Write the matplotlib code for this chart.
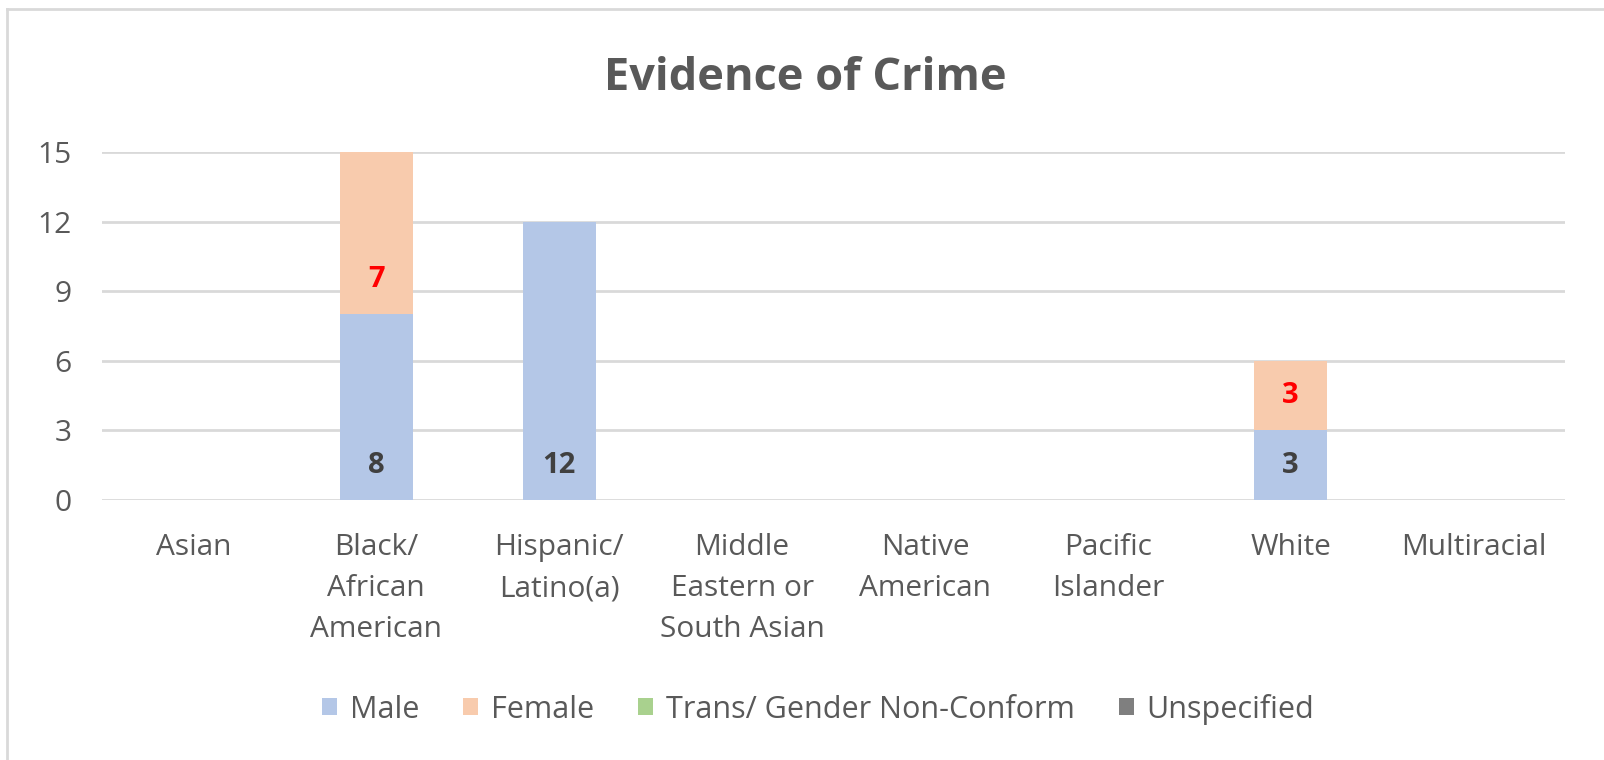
import matplotlib.pyplot as plt
from matplotlib.lines import Line2D
import numpy as np

# --- Data ---
categories = ["Asian", "Black/\nAfrican\nAmerican", "Hispanic/\nLatino(a)",
              "Middle\nEastern or\nSouth Asian", "Native\nAmerican",
              "Pacific\nIslander", "White", "Multiracial"]
male = [0, 8, 12, 0, 0, 0, 3, 0]
female = [0, 7, 0, 0, 0, 0, 3, 0]
trans = [0, 0, 0, 0, 0, 0, 0, 0]
unspecified = [0, 0, 0, 0, 0, 0, 0, 0]
yticks = [0, 3, 6, 9, 12, 15]

# --- Style ---
plt.rcParams['font.family'] = ['Open Sans', 'DejaVu Sans']
text_color = "#595959"
grid_color = "#D9D9D9"
colors = {"Male": "#B4C7E7", "Female": "#F8CBAD",
          "Trans/ Gender Non-Conform": "#A9D18E", "Unspecified": "#7F7F7F"}

fig = plt.figure(figsize=(16.04, 7.6), dpi=100)
ax = fig.add_axes([0.0636, 0.342, 0.9121, 0.458])

x = np.arange(len(categories))
width = 0.4
bottom = np.zeros(len(categories))
series = [("Male", male), ("Female", female),
          ("Trans/ Gender Non-Conform", trans), ("Unspecified", unspecified)]
bars = {}
for name, vals in series:
    vals = np.array(vals, dtype=float)
    bars[name] = ax.bar(x, vals, width, bottom=bottom, color=colors[name],
                        label=name, zorder=3)
    bottom += vals

# value labels near the base of each segment
label_colors = {"Male": "#404040", "Female": "#FF0000"}
for name, col in label_colors.items():
    for rect in bars[name]:
        h = rect.get_height()
        if h > 0:
            ax.annotate(f"{int(h)}", (rect.get_x() + rect.get_width() / 2, rect.get_y()),
                        xytext=(0, 25), textcoords="offset points",
                        ha="center", va="center", fontsize=21,
                        fontweight="bold", color=col, zorder=4)

ax.set_ylim(0, 15)
ax.set_xlim(-0.5, len(categories) - 0.5)
ax.set_yticks(yticks)
ax.set_xticks(x)
ax.set_xticklabels(categories, linespacing=1.53)
ax.tick_params(axis="y", length=0, pad=22, labelsize=21.5, labelcolor=text_color)
ax.tick_params(axis="x", length=0, pad=24, labelsize=21.5, labelcolor=text_color)
ax.yaxis.grid(True, color=grid_color, linewidth=2, zorder=0)
for s in ax.spines.values():
    s.set_visible(False)

fig.text(0.502, 0.897, "Evidence of Crime", ha="center", va="center",
         fontsize=32.5, fontweight="bold", color=text_color)

leg = fig.legend(loc="center", bbox_to_anchor=(0.510, 0.067), ncol=4,
                 frameon=False, fontsize=22, handlelength=0.5,
                 handleheight=0.5, handletextpad=0.4, columnspacing=1.45)
for t in leg.get_texts():
    t.set_color(text_color)

# outer chart frame (top and left edges)
fig.add_artist(Line2D([7 / 1604, 1], [1 - 9 / 760, 1 - 9 / 760],
                      transform=fig.transFigure, color=grid_color, linewidth=2))
fig.add_artist(Line2D([7 / 1604, 7 / 1604], [0, 1 - 9 / 760],
                      transform=fig.transFigure, color=grid_color, linewidth=2))

fig.savefig("out.png", dpi=100)
